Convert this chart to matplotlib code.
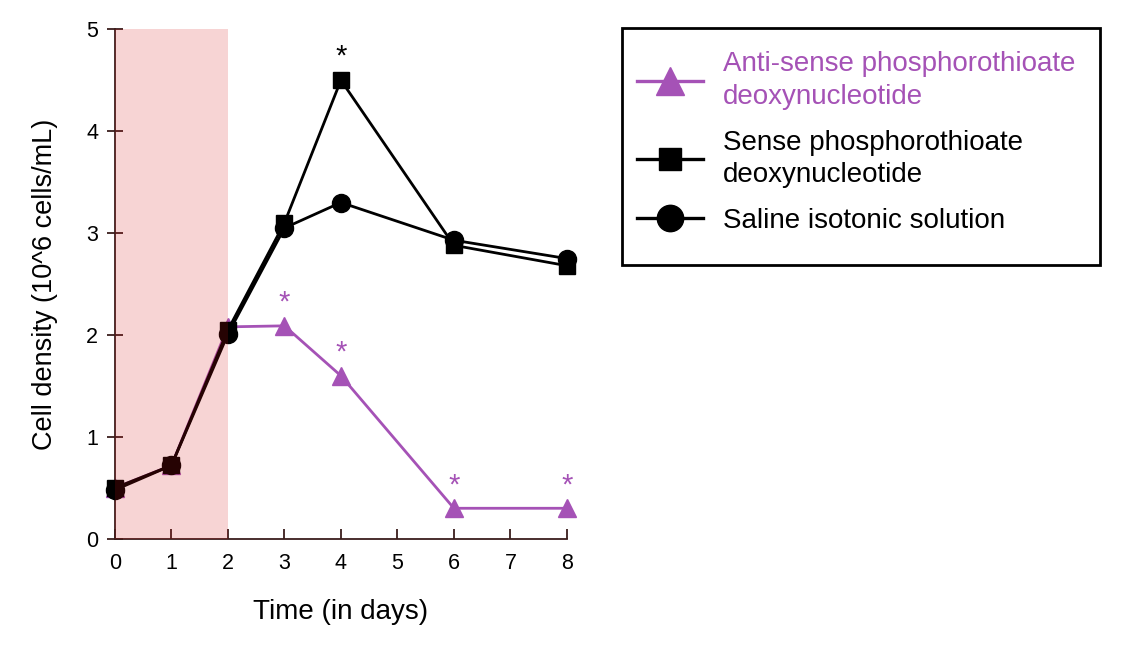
import numpy as np
import matplotlib.pyplot as plt
from matplotlib.patches import Rectangle

plt.rcParams['font.family'] = ['Liberation Sans', 'DejaVu Sans']

# Data
days = [0, 1, 2, 3, 4, 6, 8]
antisense = [0.5, 0.72, 2.08, 2.09, 1.6, 0.3, 0.3]
sense = [0.5, 0.72, 2.05, 3.1, 4.5, 2.88, 2.68]
saline = [0.48, 0.72, 2.01, 3.05, 3.3, 2.93, 2.75]

antisense_star_days = [3, 4, 6, 8]
sense_star_days = [4]

labels = ['Anti-sense phosphorothioate\ndeoxynucleotide',
          'Sense phosphorothioate\ndeoxynucleotide',
          'Saline isotonic solution']

purple = '#a552b6'
spine_col = '#3a1e1c'

fig = plt.figure(figsize=(11.27, 6.5), dpi=100)
ax = fig.add_axes([0.102, 0.171, 0.401, 0.784])

l_anti, = ax.plot(days, antisense, color=purple, lw=2, marker='^', ms=13.5,
                  zorder=2, clip_on=False)
l_sal, = ax.plot(days, saline, color='black', lw=2, marker='o', ms=13,
                 zorder=3, clip_on=False)
l_sen, = ax.plot(days, sense, color='black', lw=2, marker='s', ms=12,
                 zorder=3, clip_on=False)

# treatment period
ax.axvspan(0, 2, color='#d31111', alpha=0.18, lw=0, zorder=5)

# significance marks
for d in antisense_star_days:
    v = antisense[days.index(d)]
    ax.text(d, v + 0.09, '*', color=purple, ha='center', va='bottom', fontsize=21)
for d in sense_star_days:
    v = sense[days.index(d)]
    ax.text(d, v + 0.09, '*', color='black', ha='center', va='bottom', fontsize=21)

ax.set_xlim(0, 8)
ax.set_ylim(0, 5)
ax.set_xticks(range(9))
ax.set_yticks(range(6))
ax.tick_params(axis='x', direction='in', length=7, width=1.3, color=spine_col,
               labelsize=15.5, pad=10)
ax.tick_params(axis='y', direction='inout', length=12, width=1.3, color=spine_col,
               labelsize=15.5, pad=6)
for s in ['top', 'right']:
    ax.spines[s].set_visible(False)
for s in ['left', 'bottom']:
    ax.spines[s].set_color(spine_col)
    ax.spines[s].set_linewidth(1.3)

ax.set_xlabel('Time (in days)', fontsize=20, labelpad=18)
ax.set_ylabel('Cell density (10^6 cells/mL)', fontsize=19.5, labelpad=20)

# legend box drawn separately so its padding can be set freely
fig.patches.append(Rectangle((0.552, 0.592), 0.424, 0.365, transform=fig.transFigure,
                             fill=False, edgecolor='black', lw=2))
leg = fig.legend([l_anti, l_sen, l_sal], labels, loc='upper left',
                 bbox_to_anchor=(0.565, 0.921), fontsize=20, frameon=False,
                 handlelength=2.4, borderpad=0, labelspacing=0.72,
                 handletextpad=0.7, borderaxespad=0)
leg.get_texts()[0].set_color(purple)
for t in leg.get_texts():
    t.set_linespacing(1.32)
for h, ms in zip(leg.legend_handles, [20, 16, 19]):
    h.set_markersize(ms)
    h.set_linewidth(2.4)

plt.savefig('out.png', dpi=100)
